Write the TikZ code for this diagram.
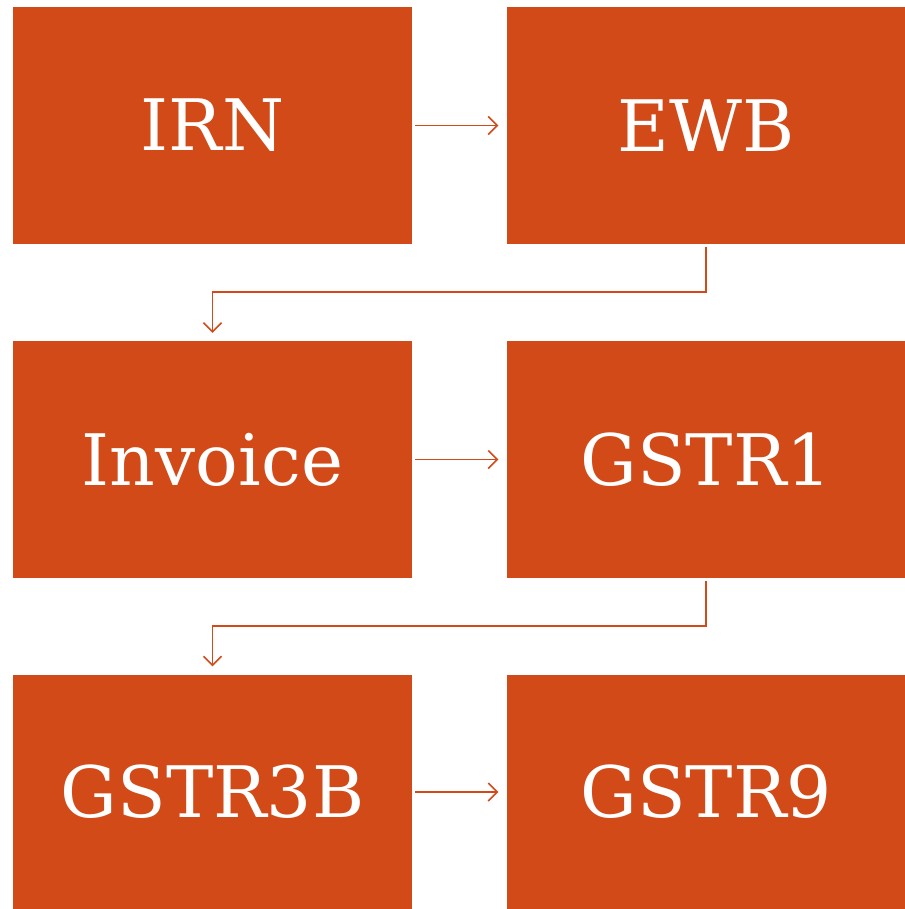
\documentclass[tikz,border=0pt]{standalone}
\usepackage{fontspec}
\setmainfont{DejaVu Serif}
\usetikzlibrary{arrows.meta}
\definecolor{boxfill}{HTML}{D24A18}
\begin{document}
\begin{tikzpicture}[x=1pt,y=-1pt,
  stepbox/.style={fill=boxfill, draw=none, minimum width=399pt, minimum height=237pt, inner sep=0pt, text=white, font=\fontsize{71}{78}\selectfont},
  conn/.style={draw=boxfill, line width=1.5pt, -{Straight Barb[length=9pt,width=18pt,line width=1.5pt]}}]
\useasboundingbox (0,0) rectangle (904,909);
\node[stepbox] (irn) at (212.5,125.5) {IRN};
\node[stepbox] (ewb) at (706,125.5) {EWB};
\node[stepbox] (inv) at (212.5,459.5) {Invoice};
\node[stepbox] (g1) at (706,459.5) {GSTR1};
\node[stepbox, minimum height=235pt] (g3b) at (212.5,792) {GSTR3B};
\node[stepbox, minimum height=235pt] (g9) at (706,792) {GSTR9};
\draw[conn, shorten <=3pt, shorten >=8pt] (irn) -- (ewb);
\draw[conn, shorten <=3pt, shorten >=8pt] (inv) -- (g1);
\draw[conn, shorten <=3pt, shorten >=8pt] (g3b) -- (g9);
\draw[conn, shorten <=3pt, shorten >=8pt] (ewb.south) -- ++(0,48) -| (inv.north);
\draw[conn, shorten <=3pt, shorten >=8pt] (g1.south) -- ++(0,48) -| (g3b.north);
\end{tikzpicture}
\end{document}
